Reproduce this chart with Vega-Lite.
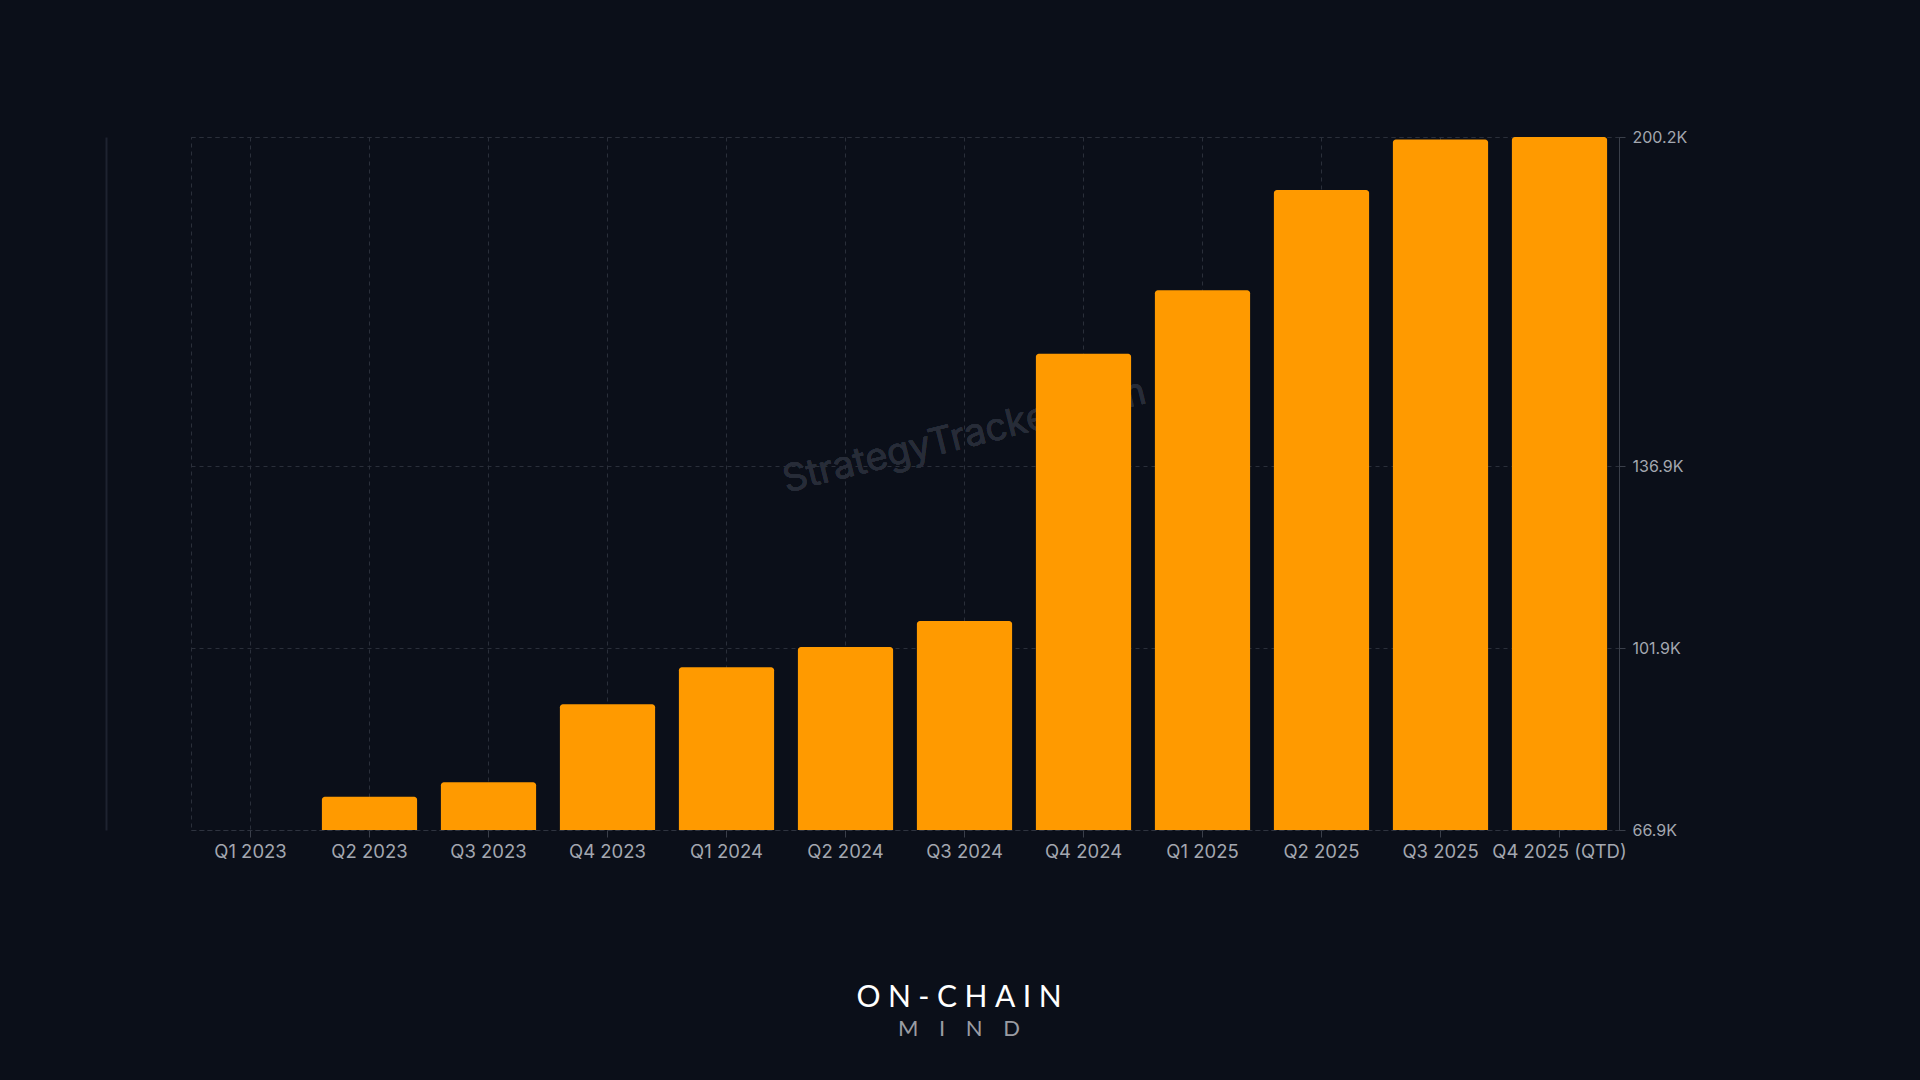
{
  "$schema": "https://vega.github.io/schema/vega-lite/v6.json",
  "width": 1428,
  "height": 693,
  "autosize": {"type": "none"},
  "padding": {"left": 191, "top": 137, "right": 301, "bottom": 250},
  "background": "#0b0f19",
  "config": {
    "font": "Inter",
    "view": {"stroke": "#2a2f3a", "strokeDash": [4, 4], "strokeWidth": 1}
  },
  "title": {
    "text": "O\u2009\u2009N\u2009\u2009-\u2009\u2009C\u2009\u2009H\u2009\u2009A\u2009\u2009I\u2009\u2009N",
    "subtitle": "M\u2003\u2009\u200aI\u2003\u2009\u200aN\u2003\u2009\u200aD",
    "orient": "bottom",
    "anchor": "middle",
    "frame": "group",
    "dx": 54,
    "offset": 122,
    "font": "Lato",
    "fontSize": 30,
    "fontWeight": 400,
    "color": "#ffffff",
    "subtitleFont": "Lato",
    "subtitleFontSize": 22,
    "subtitleColor": "#9a9ca3",
    "subtitlePadding": 6
  },
  "data": {
    "values": [
      {"quarter": "Q1 2023", "value": 66900},
      {"quarter": "Q2 2023", "value": 73300},
      {"quarter": "Q3 2023", "value": 76100},
      {"quarter": "Q4 2023", "value": 91100},
      {"quarter": "Q1 2024", "value": 98200},
      {"quarter": "Q2 2024", "value": 102100},
      {"quarter": "Q3 2024", "value": 107100},
      {"quarter": "Q4 2024", "value": 158500},
      {"quarter": "Q1 2025", "value": 170700},
      {"quarter": "Q2 2025", "value": 190000},
      {"quarter": "Q3 2025", "value": 199700},
      {"quarter": "Q4 2025 (QTD)", "value": 200200}
    ]
  },
  "encoding": {
    "x": {
      "field": "quarter",
      "type": "ordinal",
      "sort": null,
      "scale": {
        "domain": ["Q1 2023", "Q2 2023", "Q3 2023", "Q4 2023", "Q1 2024", "Q2 2024", "Q3 2024", "Q4 2024", "Q1 2025", "Q2 2025", "Q3 2025", "Q4 2025 (QTD)"],
        "paddingInner": 0.2,
        "paddingOuter": 0.1
      },
      "axis": {
        "title": null,
        "labelAngle": 0,
        "labelFontSize": 18.5,
        "labelColor": "#a3a7b0",
        "labelPadding": 5,
        "bandPosition": 0.5,
        "grid": true,
        "gridColor": "#2a2f3a",
        "gridDash": [4, 4],
        "domain": true,
        "domainColor": "#2f3440",
        "domainDash": [4, 4],
        "ticks": true,
        "tickColor": "#3a3f4a",
        "tickSize": 7
      }
    }
  },
  "layer": [
    {
      "mark": {"type": "text", "angle": -14, "fontSize": 38, "color": "#272c38", "align": "center", "baseline": "middle", "font": "Inter"},
      "encoding": {
        "x": {
          "datum": "Q3 2024",
          "type": "ordinal",
          "scale": {
            "domain": ["Q1 2023", "Q2 2023", "Q3 2023", "Q4 2023", "Q1 2024", "Q2 2024", "Q3 2024", "Q4 2024", "Q1 2025", "Q2 2025", "Q3 2025", "Q4 2025 (QTD)"]
          }
        },
        "y": {
          "datum": 142500,
          "type": "quantitative",
          "scale": {"domain": [66900, 200200], "zero": false, "nice": false},
          "axis": null
        },
        "text": {"value": "StrategyTracker.com"}
      }
    },
    {
      "mark": {"type": "bar", "color": "#ff9a00", "cornerRadiusTopLeft": 3, "cornerRadiusTopRight": 3},
      "encoding": {
        "y": {
          "field": "value",
          "type": "quantitative",
          "scale": {"domain": [66900, 200200], "zero": false, "nice": false},
          "axis": {
            "orient": "right",
            "title": null,
            "values": [66900, 101900, 136900, 200200],
            "labelExpr": "format(datum.value / 1000, '.1f') + 'K'",
            "labelFontSize": 16,
            "labelColor": "#a3a7b0",
            "labelPadding": 7,
            "grid": true,
            "gridColor": "#2a2f3a",
            "gridDash": [4, 4],
            "domainColor": "#3a3f4a",
            "tickColor": "#3a3f4a",
            "tickSize": 6
          }
        },
        "y2": {"datum": 66900}
      }
    },
    {
      "mark": {"type": "rule", "opacity": 0},
      "encoding": {
        "x": {"field": "quarter", "type": "ordinal"},
        "y": {
          "field": "value",
          "type": "quantitative",
          "scale": {"domain": [66900, 200200], "zero": false, "nice": false},
          "axis": {
            "orient": "left",
            "offset": 85,
            "title": null,
            "labels": false,
            "ticks": false,
            "grid": false,
            "domain": true,
            "domainColor": "#1e2330",
            "domainWidth": 2
          }
        }
      }
    }
  ],
  "resolve": {"axis": {"y": "independent"}}
}
